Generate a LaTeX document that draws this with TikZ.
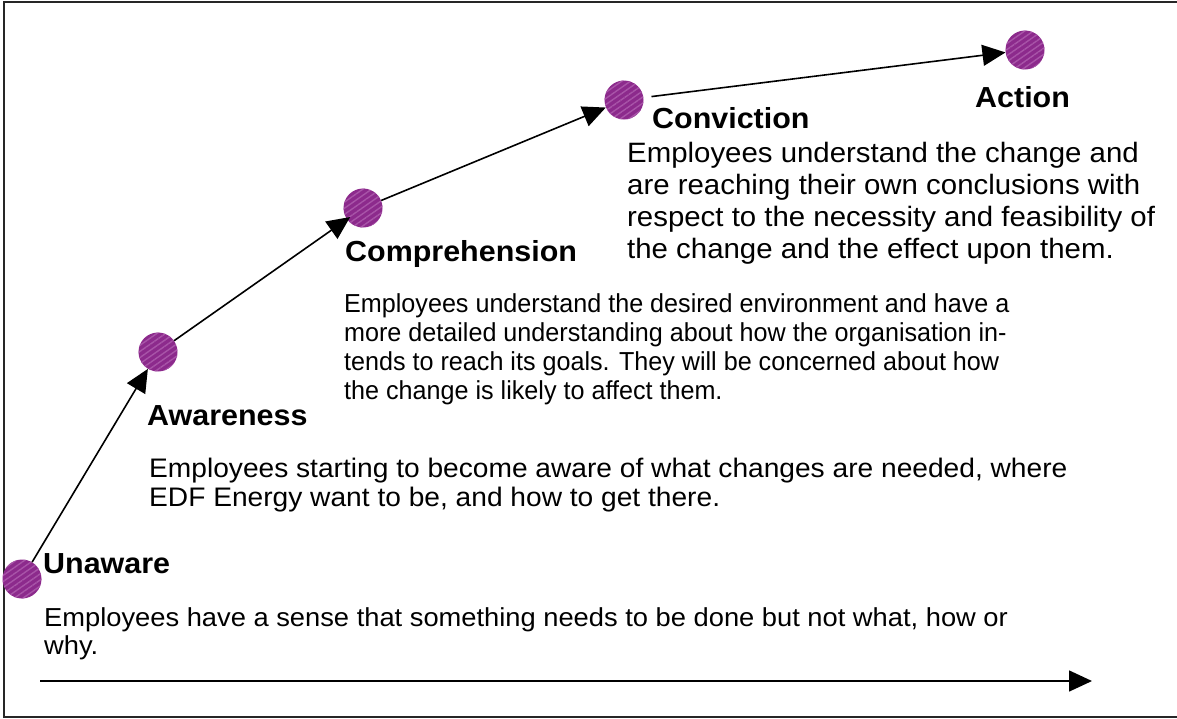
\documentclass[tikz,border=0pt]{standalone}
\usepackage{fontspec}
\setmainfont{Liberation Sans}[FakeStretch=1.05]
\newfontfamily\narrowfont{Liberation Sans}[FakeStretch=0.967]
\usetikzlibrary{arrows.meta,patterns.meta}
\definecolor{stagepurple}{RGB}{140,42,140}
\definecolor{stripepurple}{RGB}{168,84,168}

\begin{document}
\begin{tikzpicture}[x=1pt, y=-1pt,
    stage/.style={circle, minimum size=39pt, inner sep=0pt, fill=stagepurple,
        postaction={pattern={Lines[angle=35,distance=5pt,line width=1.4pt]}, pattern color=stripepurple}},
    heading/.style={anchor=base west, inner sep=0pt, font=\fontsize{29}{34}\selectfont\bfseries},
    blurb/.style={anchor=north west, inner sep=0pt, align=left},
    link/.style={line width=1.6pt, -{Triangle[length=23pt,width=21pt]}}]
                    \useasboundingbox (0,0) rectangle (1177,718);
                    \draw[line width=2.5pt, black!85] (4,2) rectangle (1192,717);

                    \node[stage] (unaware) at (22,579) {};
                    \node[stage] (awareness) at (158,352) {};
                    \node[stage] (comprehension) at (363,208) {};
                    \node[stage] (conviction) at (624,100) {};
                    \node[stage] (action) at (1025,50) {};

                    \node[heading] (unawarelabel) at (43,573) {Unaware};
                    \node[heading] (awarenesslabel) at (147,425) {Awareness};
                    \node[heading] (comprehensionlabel) at (345,261) {Comprehension};
                    \node[heading] (convictionlabel) at (652,128) {Conviction};
                    \node[heading] (actionlabel) at (975,107) {Action};

                    \node[blurb, font=\fontsize{26}{28}\selectfont] (unawaretext) at (44,607)
                        {Employees have a sense that something needs to be done but not what, how or\\why.};
                    \node[blurb, font=\fontsize{26.8}{29}\selectfont] (awarenesstext) at (149,458)
                        {Employees starting to become aware of what changes are needed, where\\EDF Energy want to be, and how to get there.};
                    \node[blurb, font=\narrowfont\fontsize{26}{29}\selectfont] (comprehensiontext) at (344,293)
                        {Employees understand the desired environment and have a\\more detailed understanding about how the organisation in-\\tends to reach its goals. They will be concerned about how\\the change is likely to affect them.};
                    \node[blurb, font=\fontsize{28}{32}\selectfont] (convictiontext) at (627,142)
                        {Employees understand the change and\\are reaching their own conclusions with\\respect to the necessity and feasibility of\\the change and the effect upon them.};

                    \draw[link] (unaware) -- (awareness);
                    \draw[link, shorten >=-4pt] (awareness) -- (comprehension);
                    \draw[link] (comprehension) -- (conviction);
                    \draw[link, shorten <=8pt] (conviction) -- (action);

                    \coordinate (axisstart) at (40,681);
                    \coordinate (axisend) at (1092,681);
                    \draw[link] (axisstart) -- (axisend);
                \end{tikzpicture}
\end{document}
